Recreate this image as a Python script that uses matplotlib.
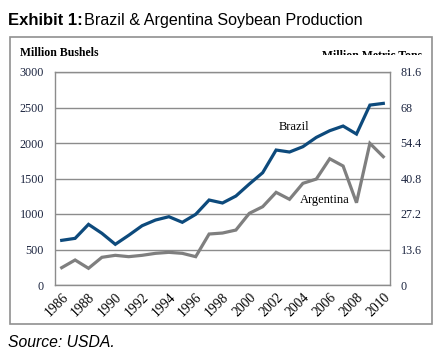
import numpy as np
import matplotlib
matplotlib.use('Agg')
import matplotlib.pyplot as plt
from matplotlib.patches import Rectangle

years = list(range(1986, 2011))
brazil = [629, 657, 854, 728, 573, 700, 835, 915, 962, 883, 995, 1197, 1155,
          1253, 1422, 1582, 1901, 1873, 1948, 2079, 2173, 2239, 2126, 2534, 2558]
argentina = [244, 352, 235, 390, 418, 399, 418, 446, 460, 446, 399, 718, 732,
             774, 1009, 1103, 1305, 1207, 1432, 1492, 1778, 1676, 1159, 1995, 1807]
left_ticks = [0, 500, 1000, 1500, 2000, 2500, 3000]
right_ticks = [0, 13.6, 27.2, 40.8, 54.4, 68, 81.6]
right_labels = ['0', '13.6', '27.2', '40.8', '54.4', '68', '81.6']

SERIF = 'Liberation Serif'
SANS = 'Liberation Sans'
TICK_COLOR = '#1c2540'
GRID = '#8c8c8c'

fig = plt.figure(figsize=(4.39, 3.54), dpi=100)
W, H = 439, 354

# outer frame
fig.patches.append(Rectangle((10 / W, 1 - 324 / H), 422 / W, 287 / H,
                             transform=fig.transFigure, fill=False,
                             edgecolor='#909090', linewidth=1.2))

ax = fig.add_axes([55 / W, 1 - 285 / H, 335 / W, 213 / H])
x = np.arange(len(years))
ax.plot(x, brazil, color='#0d4a7c', linewidth=2.3, solid_joinstyle='miter')
ax.plot(x, argentina, color='#7f7f7f', linewidth=2.3, solid_joinstyle='miter')
ax.set_xlim(-0.5, len(years) - 0.5)
ax.set_ylim(0, 3000)
ax.set_yticks(left_ticks)
ax.set_yticklabels([str(v) for v in left_ticks], family=SERIF, fontsize=8.7,
                   color=TICK_COLOR)
ax.yaxis.grid(True, color=GRID, linewidth=1)
ax.set_axisbelow(True)
ax.set_xticks(x[::2])
ax.set_xticklabels([str(y) for y in years[::2]], rotation=45, ha='right',
                   va='top', rotation_mode='anchor', family=SERIF, fontsize=9.8)
ax.tick_params(axis='y', length=0, pad=8)
ax.tick_params(axis='x', length=0, pad=4)
for s in ax.spines.values():
    s.set_color(GRID)
    s.set_linewidth(1)

ax2 = ax.twinx()
ax2.set_ylim(0, 81.6)
ax2.set_yticks(right_ticks)
ax2.set_yticklabels(right_labels, family=SERIF, fontsize=8.7, color=TICK_COLOR)
ax2.tick_params(axis='y', length=0, pad=7.5)
for s in ax2.spines.values():
    s.set_visible(False)

ax.text(2003.3 - 1986, 2225, 'Brazil', family=SERIF, fontsize=9,
        ha='center', va='center')
ax.text(2005.6 - 1986, 1197, 'Argentina', family=SERIF, fontsize=9,
        ha='center', va='center')

fig.text(20 / W, 1 - 56 / H, 'Million Bushels', family=SERIF,
         fontweight='bold', fontsize=8.5, ha='left', va='baseline')
t = fig.text(422 / W, 1 - 59 / H, 'Million Metric Tons', family=SERIF,
             fontweight='bold', fontsize=8.5, ha='right', va='baseline')
clip = Rectangle((0, 1 - 54.7 / H), 1, 54.7 / H, transform=fig.transFigure)
t.set_clip_path(clip)

fig.text(8 / W, 1 - 25 / H, 'Exhibit 1:', family=SANS, fontweight='bold',
         fontsize=12, ha='left', va='baseline')
fig.text(84 / W, 1 - 25 / H, 'Brazil & Argentina Soybean Production',
         family=SANS, fontsize=11.6, ha='left', va='baseline')
fig.text(8 / W, 1 - 347 / H, 'Source: USDA.', family=SANS, style='italic',
         fontsize=11.3, ha='left', va='baseline')

fig.savefig('out.png', dpi=100)
